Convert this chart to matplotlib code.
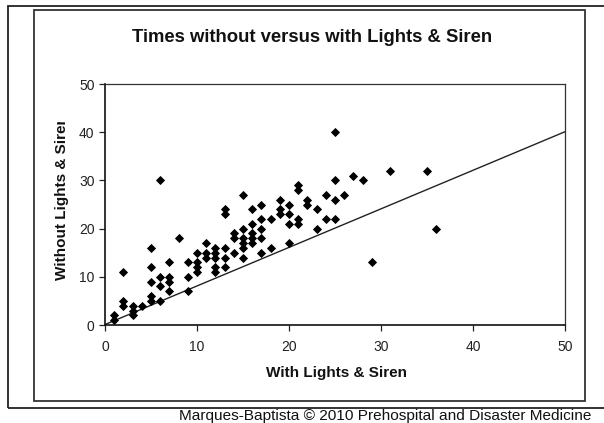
import numpy as np
import matplotlib
matplotlib.use('Agg')
import matplotlib.pyplot as plt
from matplotlib.patches import Rectangle

plt.rcParams['font.family'] = ['Liberation Sans', 'DejaVu Sans']

# Response times (minutes)
with_ls = [1, 1,
           2, 2, 2,
           3, 3, 3,
           4,
           5, 5, 5, 5, 5,
           6, 6, 6, 6,
           7, 7, 7, 7,
           8,
           9, 9, 9,
           10, 10, 10, 10,
           11, 11, 11,
           12, 12, 12, 12, 12,
           13, 13, 13, 13, 13,
           14, 14, 14,
           15, 15, 15, 15, 15, 15,
           16, 16, 16, 16, 16,
           17, 17, 17, 17, 17,
           18, 18,
           19, 19, 19,
           20, 20, 20, 20,
           21, 21, 21, 21,
           22, 22,
           23, 23,
           24, 24,
           25, 25, 25, 25,
           26, 27, 28, 29, 31, 35, 36]
without_ls = [2, 1,
              11, 5, 4,
              4, 3, 2,
              4,
              16, 12, 9, 6, 5,
              30, 10, 8, 5,
              13, 10, 9, 7,
              18,
              13, 10, 7,
              15, 13, 12, 11,
              17, 15, 14,
              16, 15, 14, 12, 11,
              24, 23, 16, 14, 12,
              19, 18, 15,
              27, 20, 18, 17, 16, 14,
              24, 21, 19, 18, 17,
              25, 22, 20, 18, 15,
              22, 16,
              26, 24, 23,
              25, 23, 21, 17,
              29, 28, 22, 21,
              26, 25,
              24, 20,
              27, 22,
              40, 30, 26, 22,
              27, 31, 30, 13, 32, 32, 20]

# trend line as drawn on the original chart
trend_slope = 0.8
trend_intercept = 0.1

x_ticks = [0, 10, 20, 30, 40, 50]
y_ticks = [0, 10, 20, 30, 40, 50]

W, H = 604, 423
fig = plt.figure(figsize=(W / 100, H / 100), dpi=100)

def fx(px):
    return px / W

def fy(py):
    return 1 - py / H

# outer frame (runs off the right edge) and chart area frame
fig.patches.append(Rectangle((fx(8), fy(408)), 1.2, fy(6) - fy(408), transform=fig.transFigure,
                             fill=False, edgecolor='#222222', linewidth=1.3))
fig.patches.append(Rectangle((fx(34), fy(401)), fx(585) - fx(34), fy(10) - fy(401),
                             transform=fig.transFigure, fill=False, edgecolor='#333333', linewidth=1.3))

ax = fig.add_axes([fx(105), fy(325), fx(565) - fx(105), fy(84) - fy(325)])
ax.set_xlim(0, 50)
ax.set_ylim(0, 50)

ax.plot(with_ls, without_ls, linestyle='none', marker='D', markersize=4.1,
        color='black', markeredgewidth=0.6, clip_on=False, zorder=3)

xs = np.array(ax.get_xlim())
ax.plot(xs, trend_slope * xs + trend_intercept, color='#222222', linewidth=1.0, zorder=2)

ax.set_xticks(x_ticks)
ax.set_yticks(y_ticks)
ax.tick_params(axis='both', direction='out', length=4, width=0.9, colors='#222222', labelsize=10)
ax.tick_params(axis='x', pad=7)
ax.tick_params(axis='y', pad=3.5)
for s in ['left', 'bottom']:
    ax.spines[s].set_linewidth(1.2)
    ax.spines[s].set_color('#111111')
for s in ['top', 'right']:
    ax.spines[s].set_linewidth(0.9)
    ax.spines[s].set_color('#333333')

fig.text(fx(312), fy(38), 'Times without versus with Lights & Siren', ha='center', va='center',
         fontsize=13.3, fontweight='bold', color='#111111')
fig.text(fx(336), fy(377), 'With Lights & Siren', ha='center', va='baseline',
         fontsize=11, fontweight='bold', color='#111111')
ylab = fig.text(fx(62), fy(198), 'Without Lights & Siren', ha='center', va='center', rotation=90,
                fontsize=11, fontweight='bold', color='#111111')
# the original label is cut off at the top
clip = Rectangle((0, 0), 1, fy(122), transform=fig.transFigure)
ylab.set_clip_path(clip)

fig.text(fx(179), fy(419.5), 'Marques-Baptista \u00a9 2010 Prehospital and Disaster Medicine',
         ha='left', va='baseline', fontsize=11.1, color='#111111')

fig.savefig('out.png', dpi=100)
